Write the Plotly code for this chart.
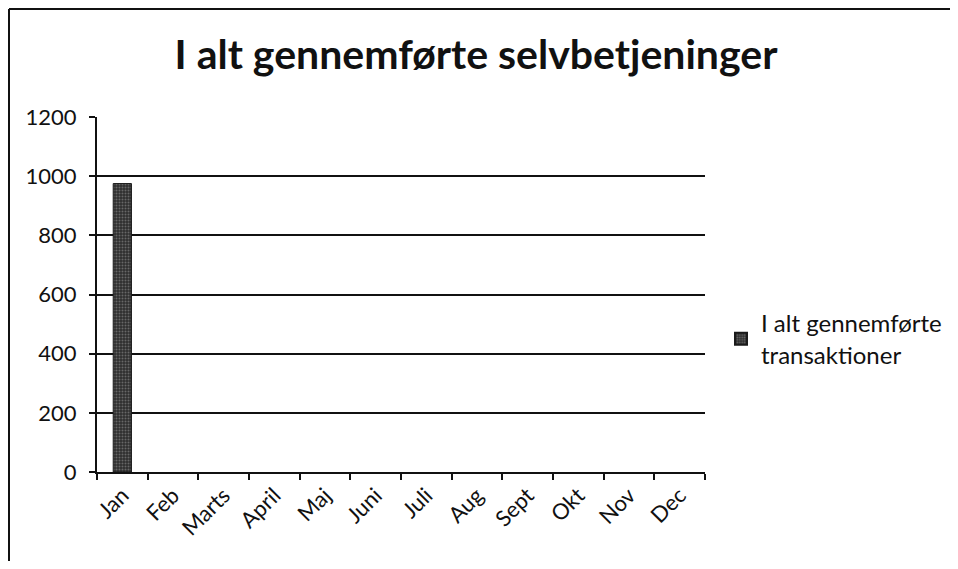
import plotly.graph_objects as go

months = ["Jan", "Feb", "Marts", "April", "Maj", "Juni", "Juli", "Aug", "Sept", "Okt", "Nov", "Dec"]
values = [975, None, None, None, None, None, None, None, None, None, None, None]
series_name = "I alt gennemførte<br>transaktioner"
title_text = "I alt gennemførte selvbetjeninger"
y_ticks = [0, 200, 400, 600, 800, 1000, 1200]

# page body adds an 8px margin on every side; size the figure to fit inside the window
OFF = 8
W, H = 958 - 2 * OFF, 569 - 2 * OFF
L, T = 97 - OFF, 117 - OFF
R = W - (705 - OFF)
B = H - (472 - OFF)
pw, ph = W - L - R, H - T - B

fig = go.Figure()
fig.add_trace(go.Bar(
    x=months, y=values, name=series_name, width=0.36,
    marker=dict(color="#2e2e2e", line=dict(color="#1a1a1a", width=1),
                pattern=dict(shape=".", fgcolor="#a0a0a0", bgcolor="#2e2e2e", size=3, solidity=0.35)),
    showlegend=True,
))

font_main = "Lato"
fig.update_layout(
    width=W, height=H,
    margin=dict(l=L, r=R, t=T, b=B, autoexpand=False),
    paper_bgcolor="white", plot_bgcolor="white",
    font=dict(family=font_main, size=22, color="#111"),
    title=dict(text="<b>" + title_text + "</b>", x=(476 - OFF) / W, xanchor="center",
               y=1 - (55 - OFF) / H, yanchor="middle",
               font=dict(size=41, color="#111", family=font_main)),
    xaxis=dict(type="category", categoryorder="array", categoryarray=months, range=[-0.5, 11.5],
               tickangle=-45, ticks="outside", tickson="boundaries", ticklen=6, tickwidth=1.5,
               tickcolor="#111", showline=True, linecolor="#111", linewidth=2,
               showgrid=False, tickfont=dict(size=22, family=font_main), automargin=False),
    yaxis=dict(range=[0, 1200], tickvals=y_ticks, ticks="outside", ticklen=6, tickwidth=1.5, tickcolor="#111",
               showline=True, linecolor="#111", linewidth=2, showgrid=True, gridcolor="#111", gridwidth=1.5,
               zeroline=False, tickfont=dict(size=22, family=font_main), ticklabelstandoff=8,
               automargin=False),
    legend=dict(x=(721 - OFF - L) / pw, xanchor="left", y=1 - (301 - OFF - T) / ph, yanchor="top",
                font=dict(size=24, family=font_main), itemsizing="constant", itemwidth=30,
                bgcolor="rgba(0,0,0,0)"),
    bargap=0.64,
)

# chart frame (left and top edges visible, right/bottom beyond the picture)
fx, fy = 1, 1  # figure pixels
fig.add_shape(type="line", xref="paper", yref="paper",
              x0=(fx - L) / pw, x1=(W - L) / pw, y0=1 + (T - fy) / ph, y1=1 + (T - fy) / ph,
              line=dict(color="#111", width=2))
fig.add_shape(type="line", xref="paper", yref="paper",
              x0=(fx - L) / pw, x1=(fx - L) / pw, y0=1 + (T - fy) / ph, y1=-B / ph,
              line=dict(color="#111", width=2))

fig.write_html("out.html")
